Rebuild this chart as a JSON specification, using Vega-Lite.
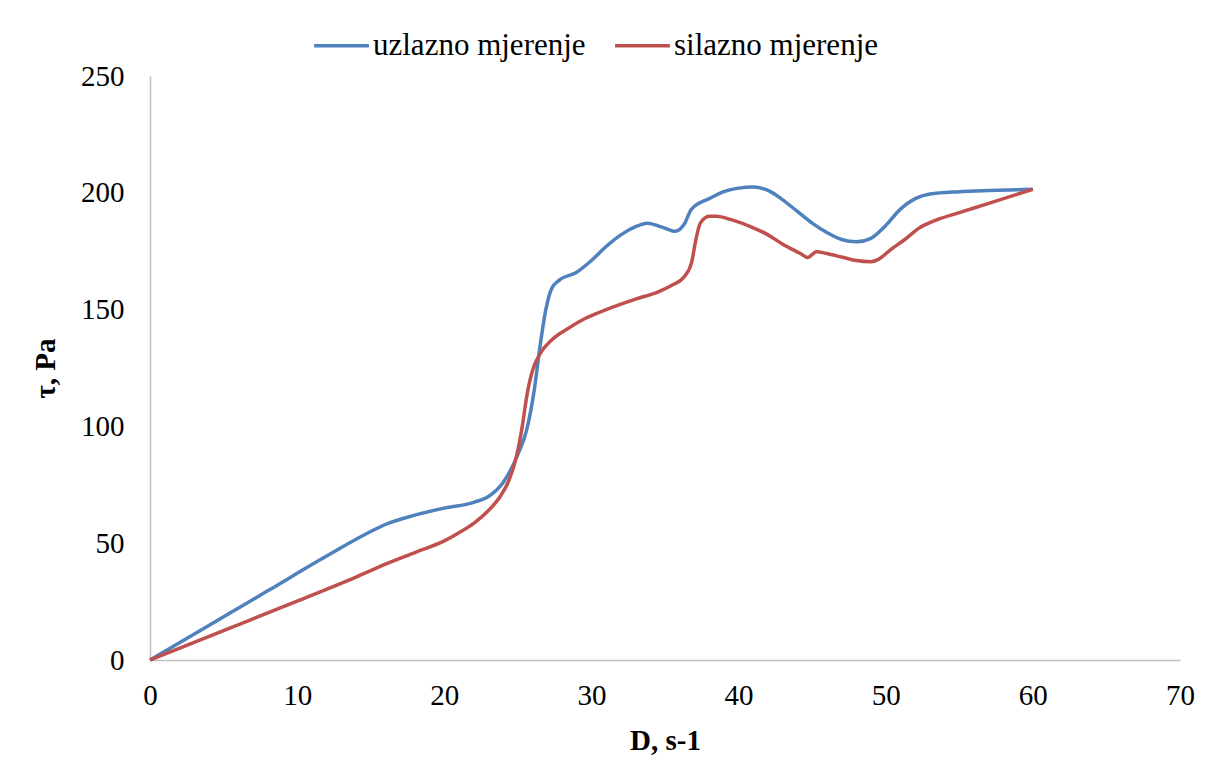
{
  "$schema": "https://vega.github.io/schema/vega-lite/v6.json",
  "width": 1030,
  "height": 584,
  "autosize": "none",
  "padding": {"left": 150, "top": 76, "right": 26, "bottom": 100},
  "background": "white",
  "config": {
    "view": {"stroke": null},
    "font": "Liberation Serif"
  },
  "data": {
    "values": [
      {"D": 0, "tau": 0, "s": "uzlazno mjerenje"},
      {"D": 4, "tau": 14.8, "s": "uzlazno mjerenje"},
      {"D": 8, "tau": 29.6, "s": "uzlazno mjerenje"},
      {"D": 12, "tau": 44.5, "s": "uzlazno mjerenje"},
      {"D": 15, "tau": 55, "s": "uzlazno mjerenje"},
      {"D": 16, "tau": 58, "s": "uzlazno mjerenje"},
      {"D": 18, "tau": 62, "s": "uzlazno mjerenje"},
      {"D": 20, "tau": 65, "s": "uzlazno mjerenje"},
      {"D": 22, "tau": 67.5, "s": "uzlazno mjerenje"},
      {"D": 23, "tau": 70, "s": "uzlazno mjerenje"},
      {"D": 24, "tau": 76, "s": "uzlazno mjerenje"},
      {"D": 25, "tau": 88, "s": "uzlazno mjerenje"},
      {"D": 25.6, "tau": 98.5, "s": "uzlazno mjerenje"},
      {"D": 26.1, "tau": 115, "s": "uzlazno mjerenje"},
      {"D": 26.5, "tau": 134, "s": "uzlazno mjerenje"},
      {"D": 26.9, "tau": 150, "s": "uzlazno mjerenje"},
      {"D": 27.3, "tau": 159, "s": "uzlazno mjerenje"},
      {"D": 27.8, "tau": 162.5, "s": "uzlazno mjerenje"},
      {"D": 29, "tau": 166, "s": "uzlazno mjerenje"},
      {"D": 30, "tau": 171, "s": "uzlazno mjerenje"},
      {"D": 31, "tau": 177, "s": "uzlazno mjerenje"},
      {"D": 32, "tau": 182, "s": "uzlazno mjerenje"},
      {"D": 33, "tau": 185.5, "s": "uzlazno mjerenje"},
      {"D": 33.8, "tau": 187, "s": "uzlazno mjerenje"},
      {"D": 34.8, "tau": 185.3, "s": "uzlazno mjerenje"},
      {"D": 35.7, "tau": 183.5, "s": "uzlazno mjerenje"},
      {"D": 36.3, "tau": 186.5, "s": "uzlazno mjerenje"},
      {"D": 36.8, "tau": 193, "s": "uzlazno mjerenje"},
      {"D": 38, "tau": 197.5, "s": "uzlazno mjerenje"},
      {"D": 39, "tau": 200.5, "s": "uzlazno mjerenje"},
      {"D": 40, "tau": 202, "s": "uzlazno mjerenje"},
      {"D": 41, "tau": 202.5, "s": "uzlazno mjerenje"},
      {"D": 42, "tau": 201, "s": "uzlazno mjerenje"},
      {"D": 43, "tau": 197, "s": "uzlazno mjerenje"},
      {"D": 44, "tau": 192, "s": "uzlazno mjerenje"},
      {"D": 45, "tau": 187, "s": "uzlazno mjerenje"},
      {"D": 46, "tau": 183, "s": "uzlazno mjerenje"},
      {"D": 47, "tau": 180, "s": "uzlazno mjerenje"},
      {"D": 48, "tau": 179, "s": "uzlazno mjerenje"},
      {"D": 49, "tau": 180.5, "s": "uzlazno mjerenje"},
      {"D": 50, "tau": 186, "s": "uzlazno mjerenje"},
      {"D": 51, "tau": 193, "s": "uzlazno mjerenje"},
      {"D": 52, "tau": 197.5, "s": "uzlazno mjerenje"},
      {"D": 53, "tau": 199.5, "s": "uzlazno mjerenje"},
      {"D": 55, "tau": 200.5, "s": "uzlazno mjerenje"},
      {"D": 57, "tau": 201, "s": "uzlazno mjerenje"},
      {"D": 60, "tau": 201.5, "s": "uzlazno mjerenje"},
      {"D": 0, "tau": 0, "s": "silazno mjerenje"},
      {"D": 5, "tau": 12.6, "s": "silazno mjerenje"},
      {"D": 10, "tau": 25.2, "s": "silazno mjerenje"},
      {"D": 14, "tau": 35.5, "s": "silazno mjerenje"},
      {"D": 16, "tau": 41, "s": "silazno mjerenje"},
      {"D": 18, "tau": 46, "s": "silazno mjerenje"},
      {"D": 20, "tau": 51, "s": "silazno mjerenje"},
      {"D": 21, "tau": 54.5, "s": "silazno mjerenje"},
      {"D": 22, "tau": 58.5, "s": "silazno mjerenje"},
      {"D": 23, "tau": 64, "s": "silazno mjerenje"},
      {"D": 23.8, "tau": 70, "s": "silazno mjerenje"},
      {"D": 24.4, "tau": 77, "s": "silazno mjerenje"},
      {"D": 24.9, "tau": 87, "s": "silazno mjerenje"},
      {"D": 25.3, "tau": 100, "s": "silazno mjerenje"},
      {"D": 25.6, "tau": 112.7, "s": "silazno mjerenje"},
      {"D": 26, "tau": 124, "s": "silazno mjerenje"},
      {"D": 26.5, "tau": 131, "s": "silazno mjerenje"},
      {"D": 27.3, "tau": 137, "s": "silazno mjerenje"},
      {"D": 28.3, "tau": 141.5, "s": "silazno mjerenje"},
      {"D": 29.5, "tau": 146, "s": "silazno mjerenje"},
      {"D": 31, "tau": 150, "s": "silazno mjerenje"},
      {"D": 33, "tau": 154.5, "s": "silazno mjerenje"},
      {"D": 34.5, "tau": 157.5, "s": "silazno mjerenje"},
      {"D": 35.5, "tau": 160.5, "s": "silazno mjerenje"},
      {"D": 36.3, "tau": 164, "s": "silazno mjerenje"},
      {"D": 36.8, "tau": 170, "s": "silazno mjerenje"},
      {"D": 37.1, "tau": 180, "s": "silazno mjerenje"},
      {"D": 37.4, "tau": 187, "s": "silazno mjerenje"},
      {"D": 38, "tau": 190, "s": "silazno mjerenje"},
      {"D": 38.5, "tau": 190, "s": "silazno mjerenje"},
      {"D": 39.5, "tau": 188.5, "s": "silazno mjerenje"},
      {"D": 41, "tau": 185, "s": "silazno mjerenje"},
      {"D": 42, "tau": 182, "s": "silazno mjerenje"},
      {"D": 43, "tau": 178, "s": "silazno mjerenje"},
      {"D": 44.2, "tau": 174, "s": "silazno mjerenje"},
      {"D": 44.7, "tau": 172.3, "s": "silazno mjerenje"},
      {"D": 45.3, "tau": 174.8, "s": "silazno mjerenje"},
      {"D": 46, "tau": 174, "s": "silazno mjerenje"},
      {"D": 47, "tau": 172.5, "s": "silazno mjerenje"},
      {"D": 48, "tau": 171, "s": "silazno mjerenje"},
      {"D": 49, "tau": 170.5, "s": "silazno mjerenje"},
      {"D": 49.5, "tau": 171.5, "s": "silazno mjerenje"},
      {"D": 50.3, "tau": 175.5, "s": "silazno mjerenje"},
      {"D": 51.3, "tau": 180, "s": "silazno mjerenje"},
      {"D": 52.3, "tau": 185, "s": "silazno mjerenje"},
      {"D": 53.5, "tau": 188.5, "s": "silazno mjerenje"},
      {"D": 55, "tau": 191.5, "s": "silazno mjerenje"},
      {"D": 57, "tau": 195.5, "s": "silazno mjerenje"},
      {"D": 60, "tau": 201.5, "s": "silazno mjerenje"}
    ]
  },
  "mark": {"type": "line", "interpolate": "monotone", "strokeWidth": 3.5},
  "encoding": {
    "x": {
      "field": "D",
      "type": "quantitative",
      "scale": {"domain": [0, 70], "nice": false},
      "axis": {
        "title": "D, s-1",
        "values": [0, 10, 20, 30, 40, 50, 60, 70],
        "grid": false,
        "ticks": false,
        "labelFlush": false,
        "domainColor": "#bfbfbf",
        "domainWidth": 1.5,
        "labelFont": "Liberation Serif",
        "labelFontSize": 29,
        "labelColor": "#000000",
        "labelPadding": 21,
        "titleFont": "Liberation Serif",
        "titleFontSize": 29,
        "titleFontWeight": "bold",
        "titleColor": "#000000",
        "titlePadding": 16
      }
    },
    "y": {
      "field": "tau",
      "type": "quantitative",
      "scale": {"domain": [0, 250], "nice": false},
      "axis": {
        "title": "τ, Pa",
        "values": [0, 50, 100, 150, 200, 250],
        "grid": false,
        "ticks": false,
        "labelFlush": false,
        "domainColor": "#bfbfbf",
        "domainWidth": 1.5,
        "labelFont": "Liberation Serif",
        "labelFontSize": 29,
        "labelColor": "#000000",
        "labelPadding": 26,
        "titleFont": "Liberation Serif",
        "titleFontSize": 29,
        "titleFontWeight": "bold",
        "titleColor": "#000000",
        "titlePadding": 20
      }
    },
    "color": {
      "field": "s",
      "type": "nominal",
      "scale": {
        "domain": ["uzlazno mjerenje", "silazno mjerenje"],
        "range": ["#4F81BD", "#C0504D"]
      },
      "legend": {
        "title": null,
        "orient": "none",
        "direction": "horizontal",
        "legendX": 162,
        "legendY": -60,
        "symbolType": "stroke",
        "symbolSize": 3000,
        "symbolStrokeWidth": 3.5,
        "labelFont": "Liberation Serif",
        "labelFontSize": 31,
        "labelLimit": 400,
        "labelColor": "#000000",
        "labelOffset": 2,
        "columnPadding": 22
      }
    }
  }
}
